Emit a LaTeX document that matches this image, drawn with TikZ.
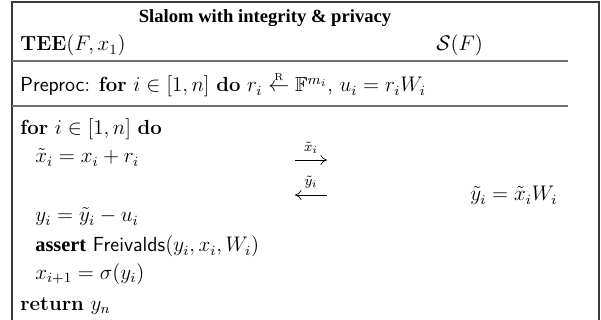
\documentclass[tikz,border=0pt]{standalone}
\usepackage{amsmath,amssymb}
\usepackage{fontspec}
\newfontfamily\timesfont{Liberation Serif}
\usepackage{tikz}
\usetikzlibrary{arrows.meta,positioning,calc}
\definecolor{Frame}{HTML}{3A3A3A}
\definecolor{Rule}{HTML}{6E6E6E}
\tikzset{
 line/.style={anchor=base west,inner sep=0pt,font=\fontsize{11.6}{14}\selectfont},
 head/.style={anchor=base,inner sep=0pt,font=\fontsize{10.6}{13}\timesfont\bfseries},
 sep/.style={draw=Rule,line width=1pt},
 msg/.style={-{To[length=1.3mm,width=2mm]},thin},
 lbl/.style={above,inner sep=3.5pt,font=\fontsize{11.6}{14}\selectfont}
}
\newcommand{\kw}[1]{\textbf{#1}}
\begin{document}
\begin{tikzpicture}[x=0.02cm,y=-0.02cm]
\useasboundingbox (0,0) rectangle (601,320);
% frame, its bottom edge lies below the page
\draw[Frame,line width=0.7pt] (12,2) rectangle (599,340);
\node[head] (title) at (265,23) {Slalom with integrity \& privacy};
\node[line] (tee) at (20,51) {\kw{TEE}$(F,x_1)$};
\node[line] (srv) at (436,51) {$\mathcal{S}(F)$};
\draw[sep] (12,61) -- (568,61);
\node[line] (pre) at (20,92) {\textsf{Preproc}: \kw{for} $i\in[1,n]$ \kw{do} $r_i\overset{\scriptscriptstyle\mathrm{R}}{\leftarrow}\mathbb{F}^{m_i}$, $u_i=r_iW_i$};
\draw[sep] (12,106) -- (568,106);
\node[line] (loop) at (20,135) {\kw{for} $i\in[1,n]$ \kw{do}};
\node[line] (mask) at (35,163) {$\tilde{x}_i=x_i+r_i$};
\node[line] (comp) at (470,201) {$\tilde{y}_i=\tilde{x}_iW_i$};
\node[line] (unmask) at (35,222) {$y_i=\tilde{y}_i-u_i$};
\node[line] (check) at (35,252) {{\timesfont\bfseries assert} \textsf{Freivalds}$(y_i,x_i,W_i)$};
\node[line] (act) at (35,279) {$x_{i+1}=\sigma(y_i)$};
\node[line] (ret) at (20,310) {\kw{return} $y_n$};
% messages
\coordinate (s1) at (295,160);
\coordinate (r1) at (327,160);
\coordinate (s2) at (327,195);
\coordinate (r2) at (295,195);
\draw[msg] (s1) -- node[lbl] {$\scriptstyle\tilde{x}_i$} (r1);
\draw[msg] (s2) -- node[lbl] {$\scriptstyle\tilde{y}_i$} (r2);
\end{tikzpicture}
\end{document}
